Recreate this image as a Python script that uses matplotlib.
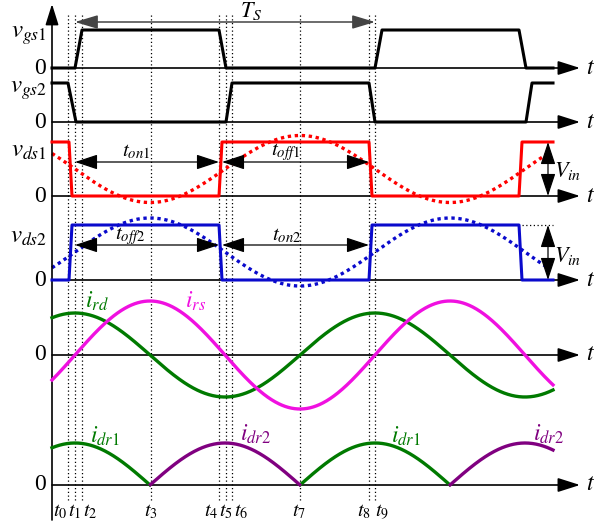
import numpy as np
import matplotlib
matplotlib.use('Agg')
import matplotlib.pyplot as plt

plt.rcParams['mathtext.fontset'] = 'stix'
plt.rcParams['font.family'] = ['Liberation Serif', 'DejaVu Serif']

# time instants (same units as the horizontal axis)
T_MARKS = [68, 75, 82, 151, 219, 226, 232, 300, 369, 375]
T_NAMES = ['$t_0$', '$t_1$', '$t_2$', '$t_3$', '$t_4$', '$t_5$', '$t_6$', '$t_7$', '$t_8$', '$t_9$']
T_START, T_END = 52, 553
PERIOD = 300
PHASE = 75          # i_rd peak / i_rs zero crossing

# gate drive waveforms (breakpoints, level 0 or 1)
vgs1_t = [52, 75, 82, 219, 226, 375, 382, 519, 526, 553]
vgs1_lv = [0, 0, 1, 1, 0, 0, 1, 1, 0, 0]
vgs2_t = [52, 68, 76, 226, 232, 369, 375, 526, 532, 553]
vgs2_lv = [1, 1, 0, 0, 1, 1, 0, 0, 1, 1]
# drain-source voltages
vds_t = [52, 69, 72, 219, 222, 369, 372, 519, 522, 553]
vds1_lv = [1, 1, 0, 0, 1, 1, 0, 0, 1, 1]
vds2_lv = [0, 0, 1, 1, 0, 0, 1, 1, 0, 0]

VGS1_HIGH, VGS2_HIGH = 38, 39
VIN1, VIN2 = 54, 55
# dashed resonant voltage (center, amplitude)
VDS1_SIN = (27, 33.5)
VDS2_SIN = (28, 34)
DASH_END = 547
# resonant currents amplitude
IRD_AMP, IRS_AMP = 42, 54

# row baselines (layout)
BASE = {'vgs1': 68, 'vgs2': 122, 'vds1': 196, 'vds2': 280, 'ir': 355, 'idr': 485}

RED = '#ff0000'
BLUE = '#0a0acc'
GREEN = '#007a00'
MAGENTA = '#f010e0'
PURPLE = '#800080'
FS = 14

fig = plt.figure(figsize=(5.94, 5.26), dpi=100)
ax = fig.add_axes([0, 0, 1, 1])
ax.set_xlim(0, 594)
ax.set_ylim(526, 0)
ax.axis('off')


def arrow(x0, y0, x1, y1, style='-|>', color='k', lw=1.2, ms=14, hl=0.6, hw=0.2):
    ax.annotate('', xy=(x1, y1), xytext=(x0, y0),
                arrowprops=dict(arrowstyle=f'{style},head_length={hl},head_width={hw}',
                                lw=lw, color=color, shrinkA=0, shrinkB=0,
                                mutation_scale=ms))


# vertical axis
arrow(T_START, 520, T_START, 4, ms=16, hl=0.8, hw=0.25)

# horizontal axes with t labels and zero labels
for key, y in BASE.items():
    arrow(T_START, y, 580, y, ms=16, hl=0.85, hw=0.27)
    ax.text(590, y, '$t$', fontsize=FS + 3, ha='center', va='center')
    ax.text(40, y, '0', fontsize=FS + 3, ha='center', va='center')

# dotted time markers
for tm in T_MARKS:
    ax.plot([tm, tm], [15, 500], color='k', lw=0.9, ls=(0, (1, 2)), zorder=1)

label_x = [60, 75, 90, 151, 211, 226, 241, 299, 364, 382]
for lx, name in zip(label_x, T_NAMES):
    ax.text(lx, 512, name, fontsize=FS + 0.5, ha='center', va='center')

# gate signals
ax.plot(vgs1_t, [BASE['vgs1'] - VGS1_HIGH * v for v in vgs1_lv], color='k', lw=2.2, zorder=3)
ax.plot(vgs2_t, [BASE['vgs2'] - VGS2_HIGH * v for v in vgs2_lv], color='k', lw=2.2, zorder=3)

# drain-source voltages
ax.plot(vds_t, [BASE['vds1'] - VIN1 * v for v in vds1_lv], color=RED, lw=2.2, zorder=3)
ax.plot(vds_t, [BASE['vds2'] - VIN2 * v for v in vds2_lv], color=BLUE, lw=2.2, zorder=3)

t = np.linspace(T_START, T_END, 800)
wt = 2 * np.pi * (t - PHASE) / PERIOD
td = np.linspace(T_START, DASH_END, 800)
wtd = 2 * np.pi * (td - PHASE) / PERIOD
ax.plot(td, BASE['vds1'] - (VDS1_SIN[0] - VDS1_SIN[1] * np.sin(wtd)), color=RED, lw=2.4,
        ls=(0, (1.0, 1.1)), zorder=2)
ax.plot(td, BASE['vds2'] - (VDS2_SIN[0] + VDS2_SIN[1] * np.sin(wtd)), color=BLUE, lw=2.4,
        ls=(0, (1.0, 1.1)), zorder=2)

# resonant currents
i_rd = IRD_AMP * np.cos(wt)
i_rs = IRS_AMP * np.sin(wt)
ax.plot(t, BASE['ir'] - i_rd, color=GREEN, lw=2.4, zorder=3)
ax.plot(t, BASE['ir'] - i_rs, color=MAGENTA, lw=2.4, zorder=3)

# rectifier currents
pos = np.where(i_rd >= 0, np.abs(i_rd), np.nan)
neg = np.where(i_rd <= 0, np.abs(i_rd), np.nan)
ax.plot(t, BASE['idr'] - pos, color=GREEN, lw=2.4, zorder=3)
ax.plot(t, BASE['idr'] - neg, color=PURPLE, lw=2.4, zorder=3)

# period arrow
arrow(75, 22, 375, 22, style='<|-|>', color='#444444', lw=1.1, ms=14, hl=1.0, hw=0.3)
ax.text(251, 11, '$T_S$', fontsize=FS + 2, ha='center', va='center')

# on/off interval arrows
y_on1, y_off2 = 162, 245
kw = dict(style='<|-|>', lw=0.9, ms=14, hl=1.0, hw=0.33)
arrow(75, y_on1, 219, y_on1, **kw)
arrow(222, y_on1, 369, y_on1, **kw)
arrow(75, y_off2, 219, y_off2, **kw)
arrow(222, y_off2, 369, y_off2, **kw)
ax.text(136, 152, '$t_{on1}$', fontsize=FS + 1, ha='center', va='center')
ax.text(286, 152, '$t_{off1}$', fontsize=FS + 1, ha='center', va='center')
ax.text(130, 236, '$t_{off2}$', fontsize=FS + 1, ha='center', va='center')
ax.text(287, 236, '$t_{on2}$', fontsize=FS + 1, ha='center', va='center')

# Vin arrows
arrow(548, BASE['vds1'], 548, BASE['vds1'] - VIN1, **kw)
arrow(548, BASE['vds2'], 548, BASE['vds2'] - VIN2, **kw)
ax.plot([522, 553], [BASE['vds2'] - VIN2] * 2, color='k', lw=0.9, ls=(0, (1, 2)))
ax.text(568, 171, '$V_{in}$', fontsize=FS + 2, ha='center', va='center')
ax.text(568, 256, '$V_{in}$', fontsize=FS + 2, ha='center', va='center')

# signal names
ax.text(29, 36, '$v_{gs1}$', fontsize=FS + 4, ha='center', va='center')
ax.text(29, 91, '$v_{gs2}$', fontsize=FS + 4, ha='center', va='center')
ax.text(29, 151, '$v_{ds1}$', fontsize=FS + 4, ha='center', va='center')
ax.text(29, 237, '$v_{ds2}$', fontsize=FS + 4, ha='center', va='center')
ax.text(97, 301, '$i_{rd}$', fontsize=FS + 3, ha='center', va='center', color=GREEN)
ax.text(196, 301, '$i_{rs}$', fontsize=FS + 3, ha='center', va='center', color=MAGENTA)
ax.text(105, 436, '$i_{dr1}$', fontsize=FS + 3, ha='center', va='center', color=GREEN)
ax.text(256, 434, '$i_{dr2}$', fontsize=FS + 3, ha='center', va='center', color=PURPLE)
ax.text(406, 436, '$i_{dr1}$', fontsize=FS + 3, ha='center', va='center', color=GREEN)
ax.text(549, 434, '$i_{dr2}$', fontsize=FS + 3, ha='center', va='center', color=PURPLE)

fig.savefig('out.png', dpi=100)
